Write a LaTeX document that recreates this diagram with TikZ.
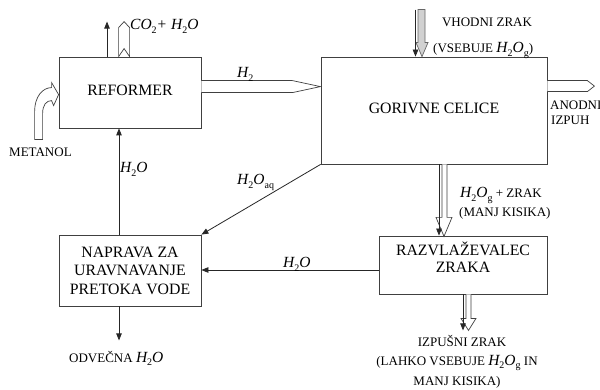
\documentclass[tikz,border=0pt]{standalone}
\usepackage{fontspec}
\setmainfont{Liberation Serif}
\usetikzlibrary{arrows.meta,calc}
\newcommand{\bxf}{\fontsize{15.8}{18.5}\selectfont}
\newcommand{\smf}{\fontsize{13}{19}\selectfont}
\newcommand{\mi}[1]{{\fontsize{15.5}{18}\selectfont\itshape #1}}
\newcommand{\sbs}[1]{\raisebox{-0.5ex}{\fontsize{10}{12}\selectfont\upshape #1}}
\begin{document}
\begin{tikzpicture}[x=1pt,y=-1pt,
  box/.style={draw=black!75, line width=0.8pt, inner sep=0pt, align=center, font=\bxf},
  lbl/.style={inner sep=0pt, font=\smf},
  arr/.style={draw=black!85, line width=0.8pt, -{Triangle[length=7pt,width=5.5pt]}},
  hollow/.style={draw=black!75, line width=0.7pt, fill=white, line join=miter},
  grayhollow/.style={hollow, draw=black!60, fill=black!18}]
\useasboundingbox (0,0) rectangle (600,390);
\fill[white] (0,0) rectangle (600,390);
% boxes
\node[box, minimum width=142pt, minimum height=71pt] (ref) at (130,92.5) {\raisebox{2pt}[\height][\depth]{REFORMER}};
\node[box, minimum width=226pt, minimum height=107pt] (gc) at (434,110.5) {\raisebox{2pt}[\height][\depth]{GORIVNE CELICE}};
\node[box, minimum width=142pt, minimum height=71pt] (nap) at (130,270.5) {NAPRAVA ZA\\URAVNAVANJE\\PRETOKA VODE};
\node[box, minimum width=168pt, minimum height=58pt] (raz) at (463,265) {\raisebox{5pt}[\height][\depth]{\begin{tabular}{@{}c@{}}RAZVLAŽEVALEC\\[-1.5pt]ZRAKA\end{tabular}}};
% reformer top outputs
\draw[arr] ($(ref.north)+(-23,0)$) -- ++(0,-35);
\begin{scope}[shift={(ref.north west)}]
  \draw[hollow] (60,0) -- (60,-29) -- (65.5,-35) -- (71,-29) -- (71,0) -- (65.5,-8) -- cycle;
  % metanol curved arrow
  \draw[hollow] (-24,83) -- (-24,55) .. controls (-24,40) and (-16,31) .. (-7,31) -- (-7,26) -- (0,38) -- (-5,49) -- (-7,44) .. controls (-12,44) and (-16,48) .. (-16,57) -- (-16,83) -- cycle;
\end{scope}
% H2 hollow arrow
\begin{scope}[shift={(ref.north east)}]
  \draw[hollow] (0,24) -- (91,24) -- (119,30) -- (91,36) -- (0,36);
\end{scope}
% anode exhaust
\begin{scope}[shift={(gc.north east)}]
  \draw[hollow] (0,24) -- (40,24) -- (47,29.5) -- (40,35) -- (0,35);
\end{scope}
% inlet air
\begin{scope}[shift={(gc.north)}]
  \draw[grayhollow] (-16,-47) -- (-9,-47) -- (-9,-14) -- (-6,-14) -- (-12,0) -- (-18,-14) -- (-16,-14) -- cycle;
\end{scope}
\coordinate (ain) at ($(gc.north)+(-18.5,-47)$);
\draw[arr] (ain) -- (ain |- gc.north);
% gc -> raz
\begin{scope}[shift={(gc.south)}]
  \draw[hollow] (8,0) -- (8,53) -- (2,53) -- (10,72) -- (18,53) -- (13,53) -- (13,0);
\end{scope}
\coordinate (t1) at ($(gc.south)+(5,0)$);
\draw[arr] (t1) -- (t1 |- raz.north);
% raz -> exhaust
\begin{scope}[shift={(raz.south)}]
  \draw[hollow] (3,0) -- (3,24) -- (-2,24) -- (5.5,36) -- (13,24) -- (8,24) -- (8,0);
\end{scope}
\draw[arr] (raz.south) -- ++(0,36);
% water lines
\draw[arr] ($(nap.north)+(-11,0)$) -- ($(ref.south)+(-11,0)$);
\draw[arr] (gc.south west) -- (nap.north east);
\coordinate (hw) at ($(raz.west)+(0,5)$);
\draw[arr] (hw) -- (hw -| nap.east);
\draw[arr] ($(nap.south)+(-11,0)$) -- ++(0,34);
% labels
\node[lbl, anchor=base west] (co2) at (130,30) {\mi{CO\sbs{2}+ H\sbs{2}O}};
\node[lbl, anchor=base west] (h2) at (237,78) {\mi{H\sbs{2}}};
\node[lbl, anchor=base] (vz1) at (487,27) {VHODNI ZRAK};
\node[lbl, anchor=base west] (vz2) at (433,53) {(VSEBUJE \mi{H\sbs{2}O\sbs{g}})};
\node[lbl, anchor=base west] (met) at (9,157) {METANOL};
\node[lbl, anchor=base west] (l1) at (120,173) {\mi{H\sbs{2}O}};
\node[lbl, anchor=base west] (laq) at (237,185) {\mi{H\sbs{2}O\sbs{aq}}};
\node[lbl, anchor=base west] (l3) at (283,268) {\mi{H\sbs{2}O}};
\node[lbl, anchor=base west] (zr1) at (460,198) {\mi{H\sbs{2}O\sbs{g}} + ZRAK};
\node[lbl, anchor=base west] (zr2) at (459,217) {(MANJ KISIKA)};
\node[lbl, anchor=base west] (an1) at (550,110) {ANODNI};
\node[lbl, anchor=base west] (an2) at (551,125) {IZPUH};
\node[lbl, anchor=base] (iz1) at (462,346) {IZPUŠNI ZRAK};
\node[lbl, anchor=base] (iz2) at (457,365) {(LAHKO VSEBUJE \mi{H\sbs{2}O\sbs{g}} IN};
\node[lbl, anchor=base] (iz3) at (457,385) {MANJ KISIKA)};
\node[lbl, anchor=base west] (odv) at (69,362) {ODVEČNA \mi{H\sbs{2}O}};
\end{tikzpicture}
\end{document}
